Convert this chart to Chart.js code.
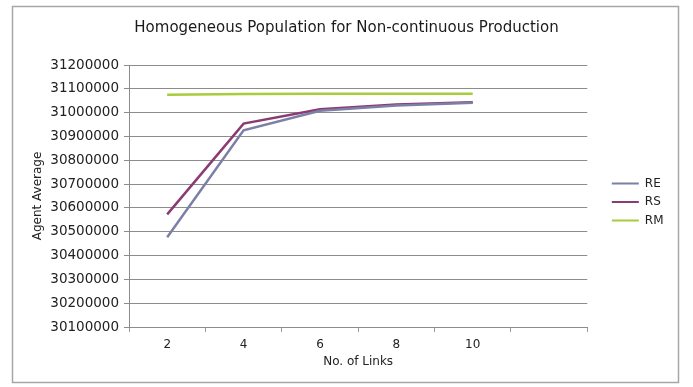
<!DOCTYPE html>
<html>
<head>
<meta charset="utf-8">
<script src="https://cdn.jsdelivr.net/npm/chart.js@4/dist/chart.umd.min.js"></script>
<style>
  html, body { margin: 0; padding: 0; background: #ffffff; }
  #wrap { width: 693px; height: 387px; }
</style>
</head>
<body>
<div id="wrap"><canvas id="chart" width="693" height="387"></canvas></div>
<script>
// Number of links per agent (last slot left empty, as in the workbook chart)
const links = ['2', '4', '6', '8', '10', ''];

// Agent average per strategy
const reValues = [30477000, 30926000, 31008000, 31030000, 31041000, null];
const rsValues = [30573000, 30954000, 31014000, 31034000, 31044000, null];
const rmValues = [31075000, 31078000, 31079000, 31079000, 31079000, null];

// Value axis range
const yMin = 30100000;
const yMax = 31200000;
const yStep = 100000;

const FONT = '"DejaVu Sans", Verdana, sans-serif';

// White page with a thin grey frame around the chart
const framePlugin = {
  id: 'frame',
  beforeDraw(chart) {
    const ctx = chart.ctx;
    ctx.save();
    ctx.fillStyle = '#ffffff';
    ctx.fillRect(0, 0, chart.width, chart.height);
    ctx.strokeStyle = '#a6a6a6';
    ctx.lineWidth = 1.5;
    ctx.strokeRect(12.5, 6.5, 666, 376);
    ctx.restore();
  }
};

new Chart(document.getElementById('chart'), {
  type: 'line',
  data: {
    labels: links,
    datasets: [
      { label: 'RE', data: reValues, borderColor: '#7c7fa6', backgroundColor: '#7c7fa6', borderWidth: 2.5 },
      { label: 'RS', data: rsValues, borderColor: '#8a3b72', backgroundColor: '#8a3b72', borderWidth: 2.5 },
      { label: 'RM', data: rmValues, borderColor: '#a8cc3c', backgroundColor: '#a8cc3c', borderWidth: 2.5 }
    ]
  },
  options: {
    responsive: false,
    animation: false,
    events: [],
    layout: { padding: { left: 19.5, right: 19.5, top: 0, bottom: 0 } },
    elements: {
      point: { radius: 0, hoverRadius: 0 },
      line: { tension: 0 }
    },
    plugins: {
      title: {
        display: true,
        text: 'Homogeneous Population for Non-continuous Production',
        color: '#1a1a1a',
        font: { family: FONT, size: 15, weight: 'normal' },
        padding: { top: 19, bottom: 28 }
      },
      legend: {
        position: 'right',
        title: {
          display: true,
          text: '',
          font: { size: 1 },
          padding: { top: 16, bottom: 0 }
        },
        labels: {
          color: '#222222',
          font: { family: FONT, size: 12 },
          boxWidth: 27,
          boxHeight: 2,
          padding: 6.5,
          generateLabels(chart) {
            return chart.data.datasets.map((ds, i) => ({
              text: ds.label,
              fillStyle: ds.borderColor,
              strokeStyle: ds.borderColor,
              lineWidth: 0,
              hidden: false,
              datasetIndex: i,
              fontColor: '#222222'
            }));
          }
        }
      },
      tooltip: { enabled: false }
    },
    scales: {
      x: {
        offset: true,
        grid: {
          offset: true,
          drawOnChartArea: false,
          drawTicks: true,
          tickLength: 5,
          color: '#9a9a9a'
        },
        border: { display: true, color: '#8c8c8c' },
        ticks: {
          color: '#222222',
          font: { family: FONT, size: 12 },
          padding: 6,
          maxRotation: 0,
          autoSkip: false
        },
        title: {
          display: true,
          text: 'No. of Links',
          color: '#222222',
          font: { family: FONT, size: 12 },
          padding: { top: 0, bottom: 18 }
        },
        afterFit(scale) { scale.height = 60; }
      },
      y: {
        min: yMin,
        max: yMax,
        grid: {
          color: '#8c8c8c',
          lineWidth: 1,
          drawTicks: true,
          tickLength: 5
        },
        border: { display: true, color: '#8c8c8c' },
        ticks: {
          stepSize: yStep,
          color: '#222222',
          font: { family: FONT, size: 13.5 },
          padding: 5,
          callback: (v) => String(v)
        },
        title: {
          display: true,
          text: 'Agent Average',
          color: '#222222',
          font: { family: FONT, size: 12 },
          padding: { top: 11.5, bottom: 0 }
        },
        afterFit(scale) { scale.width = 109.5; }
      },
      // spacer between plot and legend
      gap: {
        type: 'linear',
        position: 'right',
        display: true,
        grid: { display: false, drawTicks: false },
        border: { display: false },
        ticks: { display: false },
        afterFit(scale) { scale.width = 18; }
      }
    }
  },
  plugins: [framePlugin]
});
</script>
</body>
</html>
